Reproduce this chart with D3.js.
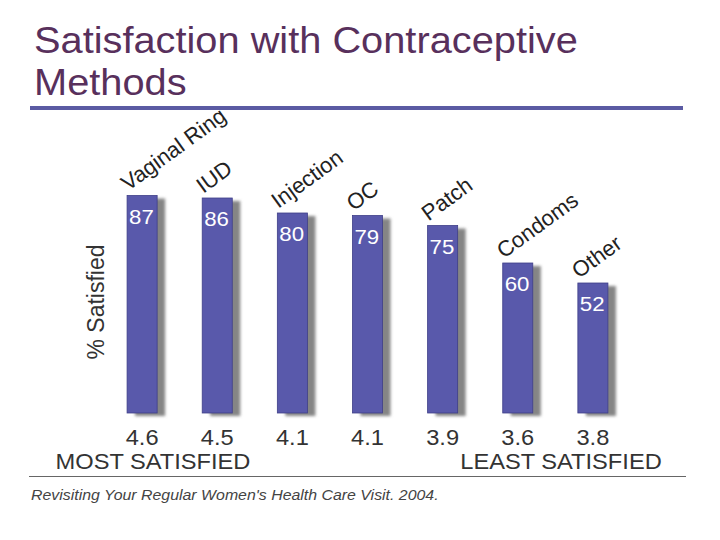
<!DOCTYPE html>
<html>
<head>
<meta charset="utf-8">
<script src="https://cdn.jsdelivr.net/npm/d3@7"></script>
<style>
  body { margin: 0; background: #fff; }
  text { font-family: "Liberation Sans", Arial, Helvetica, sans-serif; }
</style>
</head>
<body>
<div id="chart"></div>
<script>
// chart data
var methods = ['Vaginal Ring', 'IUD', 'Injection', 'OC', 'Patch', 'Condoms', 'Other'] ;
var pctSatisfied = [87, 86, 80, 79, 75, 60, 52] ;
var ratings = ['4.6', '4.5', '4.1', '4.1', '3.9', '3.6', '3.8'] ;

var width = 720, height = 540 ;
var svg = d3.select('#chart').append('svg').attr('width', width).attr('height', height) ;

var defs = svg.append('defs') ;
defs.append('filter').attr('id', 'soft').attr('x', '-50%').attr('y', '-10%').attr('width', '200%').attr('height', '120%')
	.append('feGaussianBlur').attr('stdDeviation', 1.5) ;

// the slide text is a bit wider than plain Arial
function wideText(px, py, sx) {
	return 'translate(' + px + ',' + py + ') scale(' + sx + ',1)' ;
}

// title
var title = svg.append('text').attr('transform', wideText(34, 53, 1.075)).attr('fill', '#58305c').style('font-size', '37px') ;
title.append('tspan').attr('x', 0).text('Satisfaction with Contraceptive') ;
title.append('tspan').attr('x', 0).attr('dy', 42).text('Methods') ;
svg.append('rect').attr('x', 30).attr('y', 106).attr('width', 653).attr('height', 4).attr('fill', '#5b5ba3') ;

var x = d3.scaleBand().domain(methods).range([82, 653]).padding(0.6) ;
var y = d3.scaleLinear().domain([0, 100]).range([413, 163]) ;
var bw = x.bandwidth() ;

// shadows first, then bars
svg.selectAll('.shadow').data(methods).enter().append('rect')
	.attr('class', 'shadow')
	.attr('x', function(d) { return x(d) + 8 ; })
	.attr('y', function(d, i) { return y(pctSatisfied[i]) + 3 ; })
	.attr('width', bw)
	.attr('height', function(d, i) { return y(0) - y(pctSatisfied[i]) ; })
	.attr('fill', '#858585')
	.attr('filter', 'url(#soft)') ;

svg.selectAll('.bar').data(methods).enter().append('rect')
	.attr('class', 'bar')
	.attr('x', function(d) { return x(d) ; })
	.attr('y', function(d, i) { return y(pctSatisfied[i]) ; })
	.attr('width', bw)
	.attr('height', function(d, i) { return y(0) - y(pctSatisfied[i]) ; })
	.attr('fill', '#5959ab')
	.attr('stroke', '#3f3f88')
	.attr('stroke-width', 0.8) ;

// value labels inside bars
svg.selectAll('.val').data(methods).enter().append('text')
	.attr('transform', function(d, i) { return wideText(x(d) + 2, y(pctSatisfied[i]) + 28, 1.06) ; })
	.attr('fill', '#fff')
	.style('font-size', '21px')
	.text(function(d, i) { return pctSatisfied[i] ; }) ;

// rotated category labels
svg.selectAll('.cat').data(methods).enter().append('text')
	.attr('transform', function(d, i) {
		var tx = x(d) + 1, ty = y(pctSatisfied[i]) - 4 ;
		return 'translate(' + tx + ',' + ty + ') rotate(-36)' ;
	})
	.attr('fill', '#222')
	.style('font-size', '22px')
	.text(function(d) { return d ; }) ;

// ratings under the bars
svg.selectAll('.rate').data(methods).enter().append('text')
	.attr('transform', function(d) { return wideText(x(d) + bw / 2, 445, 1.1) ; })
	.attr('text-anchor', 'middle')
	.attr('fill', '#333')
	.style('font-size', '21.5px')
	.text(function(d, i) { return ratings[i] ; }) ;

svg.append('text').attr('transform', wideText(153, 469, 1.1)).attr('text-anchor', 'middle').attr('fill', '#333')
	.style('font-size', '21.5px').text('MOST SATISFIED') ;
svg.append('text').attr('transform', wideText(561, 469, 1.1)).attr('text-anchor', 'middle').attr('fill', '#333')
	.style('font-size', '21.5px').text('LEAST SATISFIED') ;

// y label
svg.append('text').attr('transform', 'translate(104,302) rotate(-90)').attr('text-anchor', 'middle')
	.attr('fill', '#333').style('font-size', '23px').text('% Satisfied') ;

// footer
svg.append('line').attr('x1', 29).attr('x2', 686).attr('y1', 476.5).attr('y2', 476.5)
	.attr('stroke', '#666').attr('stroke-width', 1) ;
svg.append('text').attr('transform', wideText(31, 500, 1.06)).attr('fill', '#444').style('font-size', '15px')
	.style('font-style', 'italic').text("Revisiting Your Regular Women's Health Care Visit. 2004.") ;
</script>
</body>
</html>
